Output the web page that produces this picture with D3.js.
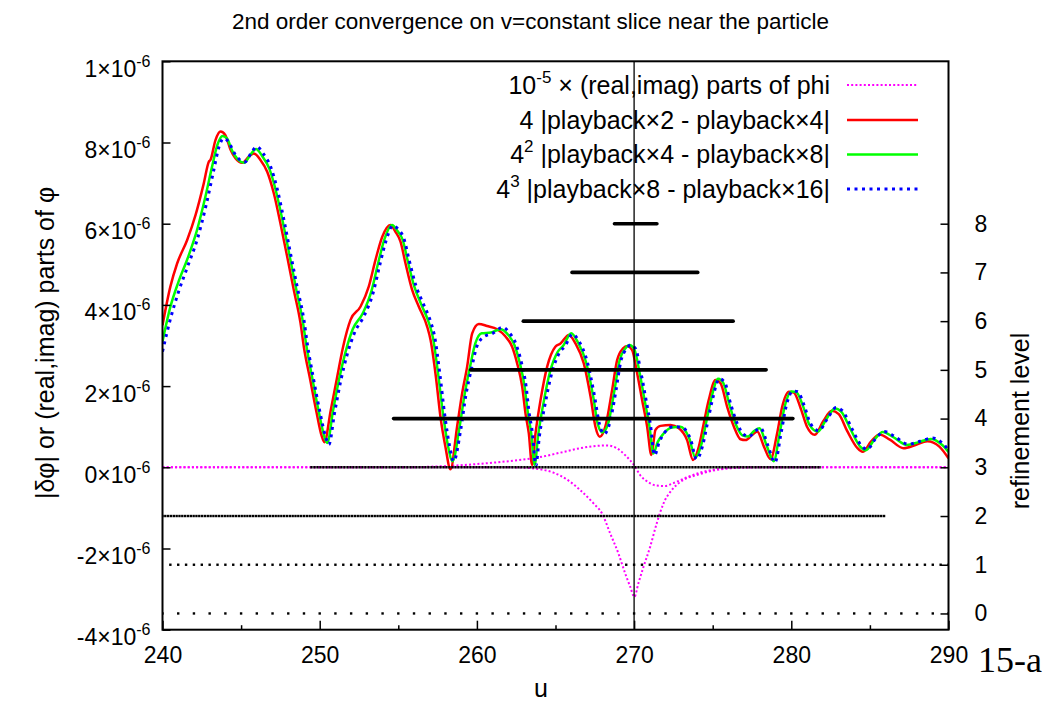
<!DOCTYPE html>
<html>
<head>
<meta charset="utf-8">
<script src="https://cdnjs.cloudflare.com/ajax/libs/d3/7.8.5/d3.min.js"></script>
<style>
  html, body { margin: 0; padding: 0; background: #fff; }
  svg { display: block; font-family: "Liberation Sans", Arial, Helvetica, sans-serif; }
  text { white-space: pre; }
</style>
</head>
<body>
<svg id="chart" width="1061" height="704"></svg>
<script>
// ---- axis ticks -------------------------------------------------------------
const uTicks = [240, 250, 260, 270, 280, 290];
const uMinorTicks = [245, 255, 265, 275, 285];
const vTicks = [-4, -2, 0, 2, 4, 6, 8, 10];            // in units of 1e-6
const vTickMantissa = ["-4", "-2", "0", "2", "4", "6", "8", "1"];
const vTickExponent = "-6";
const levelIds = [0, 1, 2, 3, 4, 5, 6, 7, 8];

// ---- refinement levels: extent of each grid in u ---------------------------
const levelFrom = [240, 240.5, 240, 249.4, 254.7, 259.6, 262.95, 266.05, 268.75];
const levelTo   = [290, 290,   286, 281.9, 280.1, 278.4, 276.3, 274.05, 271.45];
const dottedLevels = [0, 1, 2];          // coarse grids, drawn point by point
const dottedSpacing = [1, 0.5, 0.18];    // grid spacing in u for those levels
const particleU = 270;

// ---- 1e-5 x (real, imag) parts of phi (units of 1e-6) ----------------------
const phiReal = [
  [240, 0], [250, 0], [255, 0], [258, 0.03], [260, 0.08], [262, 0.15], [264, 0.25],
  [265.3, 0.36], [266.57, 0.47], [267.42, 0.52], [268.27, 0.54], [268.9, 0.47],
  [269.43, 0.30], [270.07, 0.01], [270.38, -0.19], [270.8, -0.34], [271.44, -0.45],
  [271.97, -0.46], [272.5, -0.39], [273.35, -0.25], [274.2, -0.13], [275.26, -0.05],
  [276.5, 0], [280, 0], [290, 0]
];
const phiImag = [
  [240, 0], [262, 0], [263, -0.01], [264.03, -0.05], [264.87, -0.13], [265.72, -0.30],
  [266.57, -0.56], [267.42, -0.89], [267.95, -1.13], [268.48, -1.63], [269.0, -2.12],
  [269.43, -2.61], [269.75, -2.94], [270.02, -3.19], [270.27, -2.86], [270.6, -2.45],
  [271.02, -1.96], [271.44, -1.38], [271.87, -0.89], [272.4, -0.56], [273.14, -0.31],
  [273.99, -0.19], [275.05, -0.08], [276.32, -0.02], [278, 0], [290, 0]
];

// ---- 4 |playback x2 - playback x4| -----------------------------------------
const diff24 = [
  [240.0, 3.50], [240.5, 4.45], [240.93, 5.02], [241.57, 5.60], [242.1, 6.21], [242.63, 7.00],
  [242.95, 7.53], [243.05, 7.57], [243.37, 8.06], [243.69, 8.27], [244.0, 8.18], [244.33, 7.82],
  [244.64, 7.61], [245.07, 7.50], [245.49, 7.65], [245.81, 7.73], [246.23, 7.57], [246.66, 7.28],
  [247.08, 6.75], [247.5, 6.01], [247.93, 5.19], [248.35, 4.37], [248.78, 3.55], [248.99, 2.97],
  [249.4, 2.15], [249.8, 1.35], [250.12, 0.78], [250.3, 0.62], [250.7, 1.40], [251.1, 2.20],
  [251.49, 2.97], [251.96, 3.63], [252.6, 3.96], [253.12, 4.45], [253.55, 5.11], [253.98, 5.68],
  [254.5, 5.97], [254.82, 5.80], [255.14, 5.56], [255.46, 5.02], [255.88, 4.37], [256.3, 3.96],
  [256.84, 3.46], [257.05, 3.14], [257.4, 2.20], [257.68, 1.25], [258.0, 0.50], [258.32, -0.05],
  [258.74, 1.00], [259.06, 1.82], [259.38, 2.48], [259.7, 3.30], [260.12, 3.53], [260.65, 3.48],
  [261.29, 3.40], [261.82, 3.22], [262.24, 2.97], [262.56, 2.56], [262.88, 1.99], [263.09, 1.33],
  [263.3, 0.84], [263.51, 0.06], [263.73, 0.84], [264.05, 1.66], [264.47, 2.48], [264.99, 2.97],
  [265.32, 3.05], [265.85, 3.26], [266.27, 3.05], [266.8, 2.56], [267.23, 1.74], [267.54, 1.00],
  [267.82, 0.75], [268.17, 1.00], [268.6, 1.90], [268.92, 2.64], [269.3, 2.93], [269.56, 2.99],
  [269.87, 2.89], [270.19, 2.32], [270.51, 1.66], [270.83, 1.00], [271.1, 0.30], [271.36, 0.92],
  [271.68, 1.02], [272.32, 1.04], [272.85, 0.96], [273.37, 0.67], [273.75, 0.18], [274.12, 0.51],
  [274.43, 1.08], [274.75, 1.66], [275.18, 2.15], [275.5, 2.07], [275.92, 1.49], [276.35, 1.00],
  [276.77, 0.69], [277.09, 0.67], [277.52, 0.80], [277.83, 0.88], [278.26, 0.51], [278.68, 0.20],
  [279.1, 0.84], [279.42, 1.49], [279.85, 1.86], [280.16, 1.84], [280.6, 1.45], [281.0, 1.00],
  [281.5, 0.80], [282.04, 1.14], [282.58, 1.39], [283.02, 1.31], [283.56, 0.89], [284.21, 0.47],
  [284.54, 0.38], [285.08, 0.64], [285.62, 0.81], [286.27, 0.68], [287.14, 0.47], [287.9, 0.55],
  [288.65, 0.64], [289.42, 0.51], [290.0, 0.22]
];

// ---- 4^2 |playback x4 - playback x8| ---------------------------------------
const diff48 = [
  [240.0, 3.10], [240.5, 3.95], [241.0, 4.55], [241.6, 5.15], [242.2, 5.85], [242.75, 6.70],
  [243.15, 7.40], [243.5, 7.95], [243.82, 8.16], [244.1, 8.10], [244.45, 7.78], [244.8, 7.58],
  [245.2, 7.50], [245.6, 7.70], [245.95, 7.84], [246.35, 7.66], [246.8, 7.35], [247.22, 6.80],
  [247.65, 6.05], [248.08, 5.22], [248.5, 4.40], [248.93, 3.58], [249.15, 3.00], [249.55, 2.15],
  [249.95, 1.35], [250.3, 0.75], [250.48, 0.60], [250.85, 1.40], [251.25, 2.20], [251.65, 2.85],
  [252.1, 3.40], [252.75, 3.80], [253.3, 4.35], [253.7, 5.00], [254.12, 5.62], [254.6, 5.97],
  [254.95, 5.82], [255.28, 5.60], [255.6, 5.08], [256.02, 4.45], [256.45, 4.02], [256.98, 3.52],
  [257.2, 3.20], [257.55, 2.25], [257.85, 1.30], [258.15, 0.55], [258.45, 0.15], [258.9, 1.00],
  [259.22, 1.80], [259.55, 2.45], [259.9, 3.05], [260.3, 3.30], [260.9, 3.32], [261.5, 3.40],
  [261.95, 3.28], [262.4, 3.00], [262.72, 2.58], [263.03, 2.00], [263.24, 1.35], [263.45, 0.85],
  [263.67, 0.06], [263.9, 0.80], [264.22, 1.55], [264.65, 2.35], [265.15, 2.85], [265.5, 3.00],
  [266.0, 3.30], [266.42, 3.08], [266.95, 2.58], [267.38, 1.78], [267.7, 1.05], [267.98, 0.86],
  [268.33, 1.05], [268.75, 1.90], [269.07, 2.62], [269.45, 2.93], [269.7, 3.01], [270.02, 2.90],
  [270.35, 2.33], [270.66, 1.67], [270.98, 1.00], [271.22, 0.34], [271.5, 0.62], [271.85, 0.82],
  [272.4, 0.98], [272.95, 1.00], [273.5, 0.72], [273.9, 0.24], [274.27, 0.55], [274.58, 1.10],
  [274.9, 1.68], [275.35, 2.18], [275.67, 2.08], [276.08, 1.52], [276.5, 1.03], [276.92, 0.78],
  [277.25, 0.76], [277.65, 0.90], [277.98, 0.96], [278.42, 0.55], [278.88, 0.15], [279.26, 0.84],
  [279.58, 1.50], [280.02, 1.87], [280.32, 1.85], [280.75, 1.50], [281.15, 1.05], [281.68, 0.88],
  [282.22, 1.18], [282.78, 1.45], [283.2, 1.36], [283.75, 0.95], [284.4, 0.50], [284.74, 0.42],
  [285.28, 0.68], [285.82, 0.87], [286.5, 0.74], [287.35, 0.55], [288.1, 0.62], [288.88, 0.70],
  [289.6, 0.55], [290.0, 0.38]
];

// ---- 4^3 |playback x8 - playback x16| --------------------------------------
const diff816 = [
  [240.0, 2.85], [240.5, 3.65], [241.0, 4.30], [241.6, 4.95], [242.2, 5.60], [242.8, 6.50],
  [243.25, 7.30], [243.6, 7.90], [243.88, 8.10], [244.2, 8.02], [244.55, 7.75], [244.9, 7.58],
  [245.25, 7.52], [245.65, 7.75], [246.0, 7.90], [246.42, 7.72], [246.88, 7.40], [247.3, 6.85],
  [247.72, 6.10], [248.15, 5.25], [248.58, 4.42], [249.0, 3.62], [249.22, 3.02], [249.62, 2.15],
  [250.02, 1.35], [250.38, 0.75], [250.58, 0.56], [250.95, 1.35], [251.35, 2.15], [251.75, 2.78],
  [252.2, 3.30], [252.85, 3.75], [253.4, 4.30], [253.8, 4.95], [254.22, 5.58], [254.65, 5.95],
  [255.02, 5.85], [255.35, 5.64], [255.68, 5.12], [256.1, 4.50], [256.55, 4.06], [257.08, 3.56],
  [257.3, 3.24], [257.65, 2.28], [257.95, 1.30], [258.25, 0.55], [258.52, 0.15], [258.98, 0.95],
  [259.3, 1.78], [259.65, 2.42], [260.0, 2.98], [260.4, 3.20], [261.0, 3.30], [261.65, 3.45],
  [262.05, 3.32], [262.5, 3.02], [262.82, 2.60], [263.12, 2.02], [263.32, 1.35], [263.53, 0.85],
  [263.75, 0.04], [263.98, 0.78], [264.32, 1.52], [264.75, 2.30], [265.25, 2.82], [265.6, 2.98],
  [266.08, 3.28], [266.5, 3.10], [267.02, 2.60], [267.46, 1.80], [267.8, 1.06], [268.08, 0.82],
  [268.42, 1.05], [268.85, 1.90], [269.15, 2.60], [269.52, 2.92], [269.78, 3.01], [270.1, 2.92],
  [270.42, 2.36], [270.74, 1.70], [271.05, 1.02], [271.3, 0.30], [271.6, 0.62], [271.95, 0.86],
  [272.5, 1.00], [273.05, 0.98], [273.58, 0.70], [273.98, 0.20], [274.35, 0.52], [274.66, 1.08],
  [274.98, 1.66], [275.42, 2.18], [275.75, 2.10], [276.15, 1.55], [276.58, 1.06], [277.0, 0.80],
  [277.32, 0.76], [277.72, 0.90], [278.05, 0.96], [278.5, 0.55], [278.96, 0.12], [279.34, 0.82],
  [279.66, 1.48], [280.1, 1.88], [280.4, 1.86], [280.82, 1.52], [281.22, 1.08], [281.75, 0.90],
  [282.3, 1.20], [282.85, 1.47], [283.28, 1.38], [283.82, 0.98], [284.48, 0.52], [284.82, 0.44],
  [285.35, 0.70], [285.9, 0.88], [286.58, 0.76], [287.42, 0.57], [288.2, 0.64], [288.95, 0.72],
  [289.65, 0.58], [290.0, 0.42]
];

// ---- legend entries (text pieces: [string, superscript?]) ------------------
const legendParts = [
  [["10", false], ["-5", true], [" \u00d7 (real,imag) parts of phi", false]],
  [["4 |playback\u00d72 - playback\u00d74|", false]],
  [["4", false], ["2", true], [" |playback\u00d74 - playback\u00d78|", false]],
  [["4", false], ["3", true], [" |playback\u00d78 - playback\u00d716|", false]]
];
const legendColors = ["#ff00ff", "#ff0000", "#00ff00", "#0000ff"];

// ---- layout ----------------------------------------------------------------
const W = 1061, H = 704;
const plot = { left: 162.5, right: 948.5, top: 61.3, bottom: 629.7 };
const TICK_FONT = 23;
const LABEL_FONT = 25;

const svg = d3.select("#chart");

const x = d3.scaleLinear().domain([240, 290]).range([plot.left, plot.right]);
const y = d3.scaleLinear().domain([-4, 10]).range([plot.bottom, plot.top]);
const y2 = d3.scaleLinear().domain([-1 / 3, 34 / 3]).range([plot.bottom, plot.top]);

svg.append("defs").append("clipPath").attr("id", "plotClip")
  .append("rect")
  .attr("x", plot.left).attr("y", plot.top)
  .attr("width", plot.right - plot.left).attr("height", plot.bottom - plot.top);

const area = svg.append("g").attr("clip-path", "url(#plotClip)");

const line = d3.line().x(d => x(d[0])).y(d => y(d[1])).curve(d3.curveMonotoneX);

// phi (real, imag)
[phiReal, phiImag].forEach(series => {
  area.append("path").datum(series)
    .attr("d", line).attr("fill", "none")
    .attr("stroke", "#ff00ff").attr("stroke-width", 2)
    .attr("stroke-dasharray", "2,2.2");
});

// convergence differences
area.append("path").datum(diff24).attr("d", line).attr("fill", "none")
  .attr("stroke", "#ff0000").attr("stroke-width", 2.5).attr("stroke-linejoin", "round");
area.append("path").datum(diff48).attr("d", line).attr("fill", "none")
  .attr("stroke", "#00ff00").attr("stroke-width", 2.5).attr("stroke-linejoin", "round");
area.append("path").datum(diff816).attr("d", line).attr("fill", "none")
  .attr("stroke", "#0000ff").attr("stroke-width", 3).attr("stroke-dasharray", "3,4.5");

// refinement levels: fine grids as solid bars, coarse grids as dots
const barLevels = levelIds.filter(l => !dottedLevels.includes(l));
area.append("g").selectAll("line").data(barLevels).join("line")
  .attr("x1", l => x(levelFrom[l])).attr("x2", l => x(levelTo[l]))
  .attr("y1", l => y2(l)).attr("y2", l => y2(l))
  .attr("stroke", "#000")
  .attr("stroke-width", l => (l === 3 ? 2.6 : 3.6))
  .attr("stroke-dasharray", l => (l === 3 ? "2.4,0.6" : null))
  .attr("stroke-linecap", l => (l === 3 ? "butt" : "round"));

dottedLevels.forEach((l, i) => {
  const pts = d3.range(levelFrom[l], levelTo[l] + 1e-9, dottedSpacing[i]);
  area.append("g").selectAll("rect").data(pts).join("rect")
    .attr("x", u => x(u) - 1.2).attr("y", y2(l) - 1.2)
    .attr("width", 2.4).attr("height", 2.4)
    .attr("fill", "#000");
});

// particle location
svg.append("line")
  .attr("x1", x(particleU)).attr("x2", x(particleU))
  .attr("y1", plot.top).attr("y2", plot.bottom)
  .attr("stroke", "#000").attr("stroke-width", 1.3);

// ---- axes ------------------------------------------------------------------
function styleAxis(g) {
  g.select(".domain").remove();
  g.selectAll(".tick line").attr("stroke", "#000").attr("stroke-width", 1.5);
  g.selectAll("text").attr("font-size", TICK_FONT).attr("fill", "#000")
    .attr("font-family", "Liberation Sans, Arial, sans-serif");
}

svg.append("g").attr("transform", `translate(0,${plot.bottom})`)
  .call(d3.axisBottom(x).tickValues(uTicks).tickSizeInner(-9).tickSizeOuter(0)
    .tickPadding(17).tickFormat(d3.format("d")))
  .call(styleAxis);
svg.append("g").attr("transform", `translate(0,${plot.bottom})`)
  .call(d3.axisBottom(x).tickValues(uMinorTicks).tickSizeInner(-4.5).tickSizeOuter(0)
    .tickFormat(""))
  .call(styleAxis);

const yAxisG = svg.append("g").attr("transform", `translate(${plot.left},0)`)
  .call(d3.axisLeft(y).tickValues(vTicks).tickSizeInner(-8).tickSizeOuter(0).tickFormat(""))
  .call(styleAxis);
yAxisG.selectAll(".tick").each(function (d, i) {
  const t = d3.select(this).append("text")
    .attr("x", -12).attr("y", 15)
    .attr("text-anchor", "end").attr("font-size", TICK_FONT).attr("fill", "#000");
  t.append("tspan").text(vTickMantissa[i] + "\u00d710");
  t.append("tspan").attr("dy", -10).attr("font-size", 16).text(vTickExponent);
});

svg.append("g").attr("transform", `translate(${plot.right},0)`)
  .call(d3.axisRight(y2).tickValues(levelIds).tickSizeInner(-8).tickSizeOuter(0)
    .tickPadding(26).tickFormat(d3.format("d")))
  .call(styleAxis);

// frame
svg.append("rect")
  .attr("x", plot.left).attr("y", plot.top)
  .attr("width", plot.right - plot.left).attr("height", plot.bottom - plot.top)
  .attr("fill", "none").attr("stroke", "#000").attr("stroke-width", 2);

// ---- legend ----------------------------------------------------------------
const legendRowY = [85, 120, 154.5, 189];
const legend = svg.append("g");
legendParts.forEach((parts, i) => {
  const t = legend.append("text")
    .attr("x", 830).attr("y", legendRowY[i] + 8.5)
    .attr("text-anchor", "end").attr("font-size", LABEL_FONT).attr("fill", "#000");
  parts.forEach(([s, sup], k) => {
    const ts = t.append("tspan").text(s);
    if (sup) ts.attr("dy", -11).attr("font-size", 17);
    else if (k > 0 && parts[k - 1][1]) ts.attr("dy", 11);
  });
  const sample = legend.append("line")
    .attr("x1", 847).attr("x2", 918)
    .attr("y1", legendRowY[i]).attr("y2", legendRowY[i])
    .attr("stroke", legendColors[i]);
  if (i === 0) sample.attr("stroke-width", 2).attr("stroke-dasharray", "2,2.2");
  else if (i === 3) sample.attr("stroke-width", 3).attr("stroke-dasharray", "3,4.5");
  else sample.attr("stroke-width", 2.5);
});

// ---- titles and labels -----------------------------------------------------
svg.append("text").attr("x", W / 2).attr("y", 29).attr("text-anchor", "middle")
  .attr("font-size", 22.5).text("2nd order convergence on v=constant slice near the particle");

svg.append("text").attr("x", 541).attr("y", 697).attr("text-anchor", "middle")
  .attr("font-size", LABEL_FONT).text("u");

svg.append("text").attr("transform", "translate(54,343) rotate(-90)")
  .attr("text-anchor", "middle").attr("font-size", LABEL_FONT)
  .text("|\u03b4\u03c6| or (real,imag) parts of \u03c6");

svg.append("text").attr("transform", "translate(1029,421) rotate(-90)")
  .attr("text-anchor", "middle").attr("font-size", LABEL_FONT)
  .text("refinement level");

svg.append("text").attr("x", 978).attr("y", 672)
  .attr("font-family", "Liberation Serif, Times New Roman, serif").attr("font-size", 36)
  .text("15-a");
</script>
</body>
</html>
